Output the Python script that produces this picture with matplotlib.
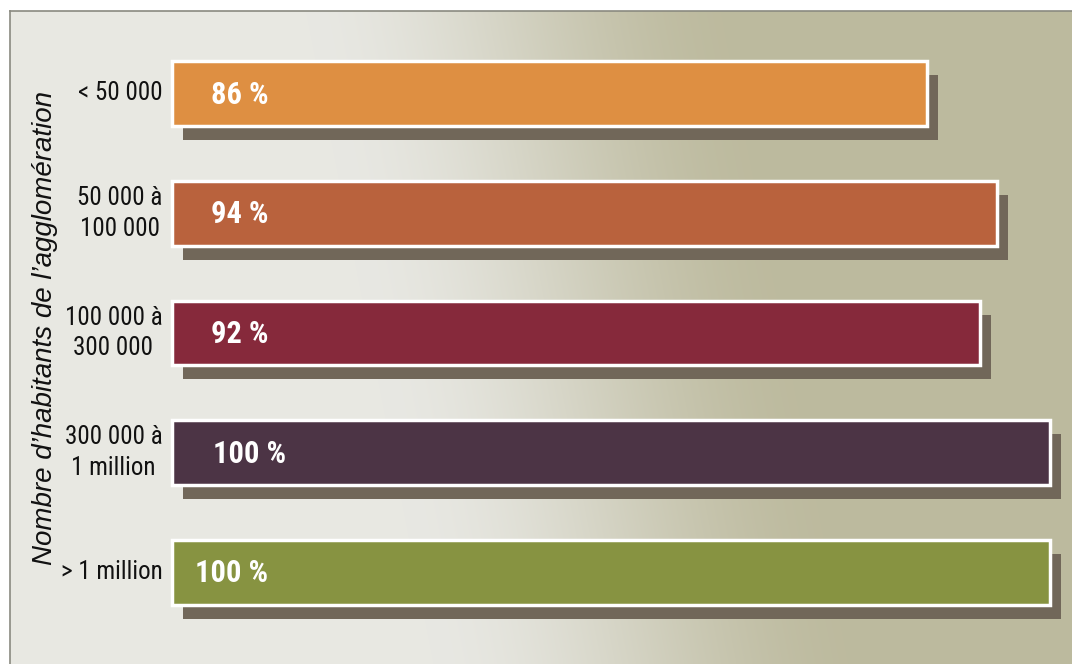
import numpy as np
import matplotlib.pyplot as plt
from matplotlib import font_manager

# Data
categories = ['< 50 000', '50 000 à\n100 000', '100 000 à\n300 000', '300 000 à\n1 million', '> 1 million']
values = [86, 94, 92, 100, 100]
value_labels = ['86 %', '94 %', '92 %', '100 %', '100 %']
colors = ['#DE8F42', '#B9623D', '#86293B', '#4C3445', '#879341']
ylabel = "Nombre d\u2019habitants de l\u2019agglomération"

# pick a condensed font if there is one
names = {f.name for f in font_manager.fontManager.ttflist}
narrow = 'Liberation Sans Narrow' if 'Liberation Sans Narrow' in names else 'Roboto Condensed' if 'Roboto Condensed' in names else 'DejaVu Sans'

fig = plt.figure(figsize=(10.72, 6.64), dpi=100)
fig.patch.set_facecolor('white')
# panel: pixels 10..1072 x 11..664
ax = fig.add_axes([10 / 1072, 0, 1062 / 1072, 653 / 664])

# mapping: x=0 at px 172, x=100 at px 1050; bar i centre at 93.5 + 119.7*i px
sx = 8.78
sy = 119.7
x0, x1 = (10 - 172) / sx, (1072 - 172) / sx
y0, y1 = (11 - 93.5) / sy, (664 - 93.5) / sy
ax.set_xlim(x0, x1)
ax.set_ylim(y1, y0)

# background gradient, light on the left, beige-olive on the right
gx = np.linspace(0, 1, 400)
gy = np.linspace(0, 1, 250)
X, Y = np.meshgrid(gx, gy)
mid = 0.48 + 0.12 * Y
t = np.clip((X - mid) / 0.42 + 0.5, 0, 1)
t = t * t * (3 - 2 * t)
light = np.array([0.91, 0.91, 0.89])
dark = np.array([0.74, 0.73, 0.62])
img = light[None, None, :] * (1 - t[..., None]) + dark[None, None, :] * t[..., None]
ax.imshow(img, extent=(x0, x1, y1, y0), aspect='auto', zorder=0, interpolation='bilinear')

ypos = np.arange(len(values))
h = 0.54
# drop shadows then bars
ax.barh(ypos + 14 / sy, values, left=11 / sx, height=h, color='#716759', zorder=1)
ax.barh(ypos, values, height=h, color=colors, edgecolor='white', linewidth=2.5, zorder=2)

label_x = [4.4, 4.4, 4.4, 4.7, 2.6]
for i, (lab, vl) in enumerate(zip(categories, value_labels)):
    ax.text(-1.1, i, lab, ha='right', va='center', multialignment='center',
            fontsize=18, family=narrow, color='#111111', linespacing=1.35, zorder=3)
    ax.text(label_x[i], i + 0.01, vl, ha='left', va='center', fontsize=22,
            fontweight='bold', family=narrow, color='white', zorder=3)

ax.text((45 - 172) / sx, (328 - 93.5) / sy, ylabel, rotation=90, ha='center', va='center',
        fontsize=20, fontstyle='italic', family='Liberation Sans', color='#111111')

ax.set_xticks([])
ax.set_yticks([])
for s in ['right', 'bottom']:
    ax.spines[s].set_visible(False)
for s in ['left', 'top']:
    ax.spines[s].set_color('#8a8a80')
    ax.spines[s].set_linewidth(1.2)

fig.savefig('out.png', dpi=100)
